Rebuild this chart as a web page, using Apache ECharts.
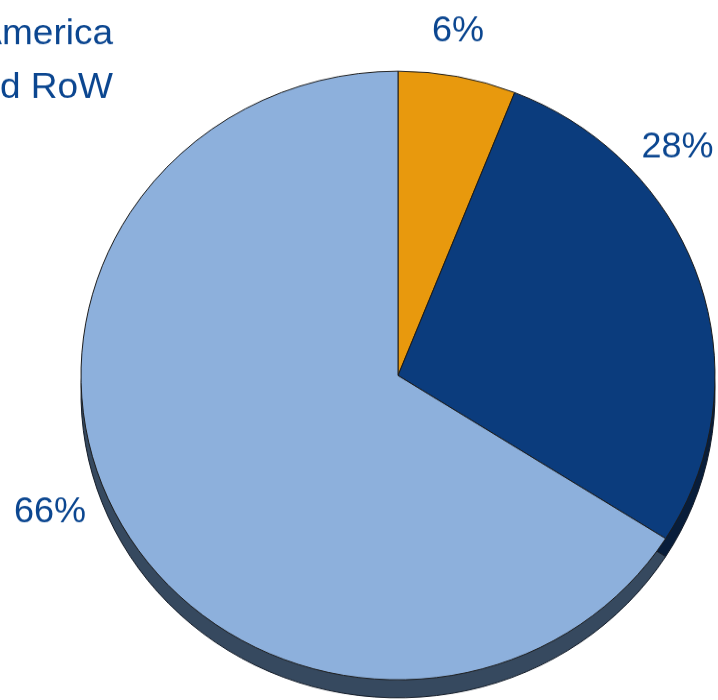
<!DOCTYPE html>
<html>
<head>
<meta charset="utf-8">
<script src="https://cdn.jsdelivr.net/npm/echarts@6/dist/echarts.min.js"></script>
<style>
  html, body { margin: 0; padding: 0; background: #ffffff; overflow: hidden; }
  #wrap { width: 718px; height: 700px; overflow: hidden; position: relative; }
  /* tilt: the pie is viewed slightly from above, so the whole drawing is squashed vertically */
  #chart { width: 718px; height: 730px; transform: scaleY(0.96); transform-origin: 0 0; }
</style>
</head>
<body>
<div id="wrap"><div id="chart"></div></div>
<script>
// Regional split of sales
const categories = ['Japan', 'North America', 'Europe and RoW'];
const shares = [6, 28, 66];
const percentLabels = ['6%', '28%', '66%'];

const TILT = 0.96;
const faceColors = ['#E8990D', '#0B3C7D', '#8DB0DC'];
const sideColors = ['#7A5206', '#081D3A', '#36495F'];
const textColor = '#0B4690';
const FONT = '"Liberation Sans", Arial, sans-serif';

const cx = 398, cy = 375.5 / TILT, R = 317, depth = 18 / TILT;
// anchor points of the percentage labels (screen pixels)
const labelAnchors = [[458, 32], [677.5, 147.5], [50, 512.5]];

const chart = echarts.init(document.getElementById('chart'), null, { renderer: 'canvas' });

const faceData = categories.map((name, i) => ({
  name, value: shares[i], itemStyle: { color: faceColors[i] }
}));
const sideData = categories.map((name, i) => ({
  name, value: shares[i], itemStyle: { color: sideColors[i] }
}));

chart.setOption({
  animation: false,
  backgroundColor: '#ffffff',
  // legend lines, right aligned, running off the left edge
  graphic: categories.map((name, i) => ({
    type: 'text',
    x: 113,
    y: (34 + (i - 1) * 54) / TILT,
    style: {
      text: name, fill: textColor, font: '37px ' + FONT,
      align: 'right', verticalAlign: 'middle'
    },
    silent: true
  })),
  series: [
    {
      // extruded side of the disc
      type: 'pie',
      silent: true,
      z: 1,
      center: [cx, cy + depth],
      radius: R,
      startAngle: 90,
      label: { show: false },
      labelLine: { show: false },
      itemStyle: { borderColor: '#141c28', borderWidth: 1 },
      data: sideData
    },
    {
      type: 'pie',
      silent: true,
      z: 2,
      center: [cx, cy],
      radius: R,
      startAngle: 90,
      avoidLabelOverlap: false,
      itemStyle: { borderColor: '#1c1c1c', borderWidth: 1 },
      label: {
        show: true,
        position: 'outside',
        formatter: p => percentLabels[p.dataIndex],
        color: textColor,
        fontFamily: FONT,
        fontSize: 36
      },
      labelLine: { show: false },
      labelLayout: p => ({
        x: labelAnchors[p.dataIndex][0],
        y: labelAnchors[p.dataIndex][1] / TILT,
        align: 'center',
        verticalAlign: 'middle'
      }),
      data: faceData
    }
  ]
});
</script>
</body>
</html>
